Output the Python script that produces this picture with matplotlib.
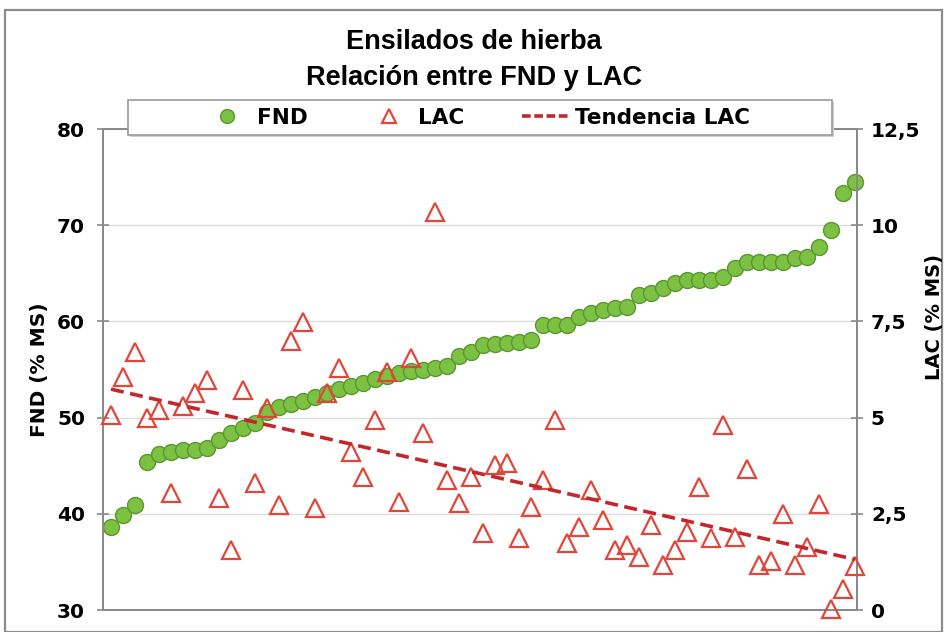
import numpy as np
import matplotlib
matplotlib.use("Agg")
import matplotlib.pyplot as plt
from matplotlib.patches import Rectangle
from matplotlib.lines import Line2D

# ---- data ----
fnd = [38.6, 39.9, 40.9, 45.4, 46.2, 46.4, 46.6, 46.6, 46.8, 47.7, 48.4, 48.9, 49.4,
       50.6, 51.1, 51.4, 51.7, 52.1, 52.6, 53.0, 53.3, 53.6, 54.0, 54.3, 54.6, 54.8,
       55.0, 55.2, 55.4, 56.4,
       56.8, 57.5, 57.7, 57.8, 57.9, 58.1, 59.6, 59.6, 59.6, 60.5, 60.9, 61.2, 61.4,
       61.5, 62.7,
       63.0, 63.5, 64.0, 64.3, 64.3, 64.3, 64.6, 65.5, 66.2, 66.2, 66.2, 66.2, 66.6,
       66.7, 67.7, 69.5, 73.3, 74.5]
lac = [5.07, 6.06, 6.7, 5.0, 5.2, 3.04, 5.3, 5.64, 5.98, 2.9, 1.56, 5.72, 3.3,
       5.25, 2.73, 7.0, 7.48, 2.65, 5.64, 6.3, 4.1, 3.46, 4.94, 6.19, 2.8, 6.55,
       4.6, 10.34, 3.38, 2.78, 3.46, 2.0, 3.77, 3.82, 1.87, 2.68, 3.38, 4.94,
       1.74, 2.16, 3.12, 2.34, 1.56, 1.69, 1.38, 2.21, 1.17, 1.56, 2.03, 3.2,
       1.87, 4.81, 1.9, 3.66, 1.17, 1.27, 2.49, 1.17, 1.64, 2.75, 0.03, 0.55, 1.14]
samples = np.arange(1, len(fnd) + 1)

left_ticks = [30, 40, 50, 60, 70, 80]
right_ticks = [0, 2.5, 5, 7.5, 10, 12.5]
right_labels = ["0", "2,5", "5", "7,5", "10", "12,5"]

title1 = "Ensilados de hierba"
title2 = "Relación entre FND y LAC"

W, H = 947, 632
fig = plt.figure(figsize=(W / 100, H / 100), dpi=100)
fig.patch.set_facecolor("white")

# outer chart border
fig.add_artist(Rectangle((5 / W, 0 / H), 937 / W, 622 / H, transform=fig.transFigure,
                         fill=False, edgecolor="#8c8c8c", lw=1.6, zorder=0))

ax = fig.add_axes([103 / W, 1 - 610 / H, 754 / W, 481 / H])
ax2 = ax.twinx()

green_face = "#7cc142"
green_edge = "#5a9632"
red_edge = "#e2453a"
trend_col = "#c3272b"
axis_col = "#8a8a8a"

ax.plot(samples, fnd, linestyle="none", marker="o", ms=11.5, mfc=green_face,
        mec=green_edge, mew=1.0, clip_on=False, zorder=3, label="FND")
ax2.plot(samples, lac, linestyle="none", marker="^", ms=12.5, mfc="none",
         mec=red_edge, mew=1.6, clip_on=False, zorder=3, label="LAC")
coef = np.polyfit(samples, lac, 1)
xt = np.array([samples[0], samples[-1]])
ax2.plot(xt, np.polyval(coef, xt), linestyle=(0, (3.6, 1.8)), color=trend_col,
         lw=2.6, zorder=4, label="Tendencia LAC")

ax.set_xlim(0.333, 63.17)
ax.set_ylim(30, 80)
ax2.set_ylim(0, 12.5)

ax.set_xticks([])
ax.set_yticks(left_ticks)
ax2.set_yticks(right_ticks)
ax2.set_yticklabels(right_labels)

ax.yaxis.grid(True, color="#dcdcdc", lw=1.0)
ax.set_axisbelow(True)

for a in (ax, ax2):
    for s in a.spines.values():
        s.set_color(axis_col)
        s.set_linewidth(1.4)
ax.spines["top"].set_color("#a8a8a8")

ax.tick_params(axis="y", direction="inout", length=8, width=1.2, color=axis_col,
               pad=9, labelsize=14.5)
ax2.tick_params(axis="y", direction="inout", length=8, width=1.2, color=axis_col,
                pad=6, labelsize=14.5)
for lab in ax.get_yticklabels() + ax2.get_yticklabels():
    lab.set_fontweight("bold")
    lab.set_family("DejaVu Sans")

ax.set_ylabel("FND (% MS)", fontsize=14.5, fontweight="bold", family="DejaVu Sans")
ax.yaxis.set_label_coords(-0.0716, 0.5)
ax2.set_ylabel("LAC (% MS)", fontsize=14, fontweight="bold", family="DejaVu Sans",
               rotation=90)
ax2.yaxis.set_label_coords(1.0905, 0.61)

fig.text(474 / W, 1 - 42 / H, title1, ha="center", va="center", fontsize=19.5,
         fontweight="bold", family="Liberation Sans")
fig.text(474 / W, 1 - 78 / H, title2, ha="center", va="center", fontsize=19.5,
         fontweight="bold", family="Liberation Sans")

# legend box
fig.add_artist(Rectangle((130 / W, 1 - 137 / H), 704 / W, 35 / H, transform=fig.transFigure,
                         facecolor="#d0d0d0", edgecolor="none", zorder=5))
fig.add_artist(Rectangle((128 / W, 1 - 135 / H), 704 / W, 35 / H, transform=fig.transFigure,
                         facecolor="white", edgecolor="#9a9a9a", lw=1.2, zorder=6))
handles = [
    Line2D([], [], linestyle="none", marker="o", ms=10, mfc=green_face, mec=green_edge, mew=1),
    Line2D([], [], linestyle="none", marker="^", ms=10.5, mfc="none", mec=red_edge, mew=1.6),
    Line2D([], [], linestyle=(0, (2.4, 1.0)), color=trend_col, lw=2.6),
]
leg = fig.legend(handles, ["FND", "LAC", "Tendencia LAC"], loc="center",
                 bbox_to_anchor=(477 / W, 1 - 118 / H), ncol=3, frameon=False,
                 prop=dict(family="DejaVu Sans", weight="bold", size=15.5),
                 handlelength=2.2, handletextpad=0.25, columnspacing=2.7)
leg.set_zorder(7)

fig.savefig("out.png", dpi=100)
